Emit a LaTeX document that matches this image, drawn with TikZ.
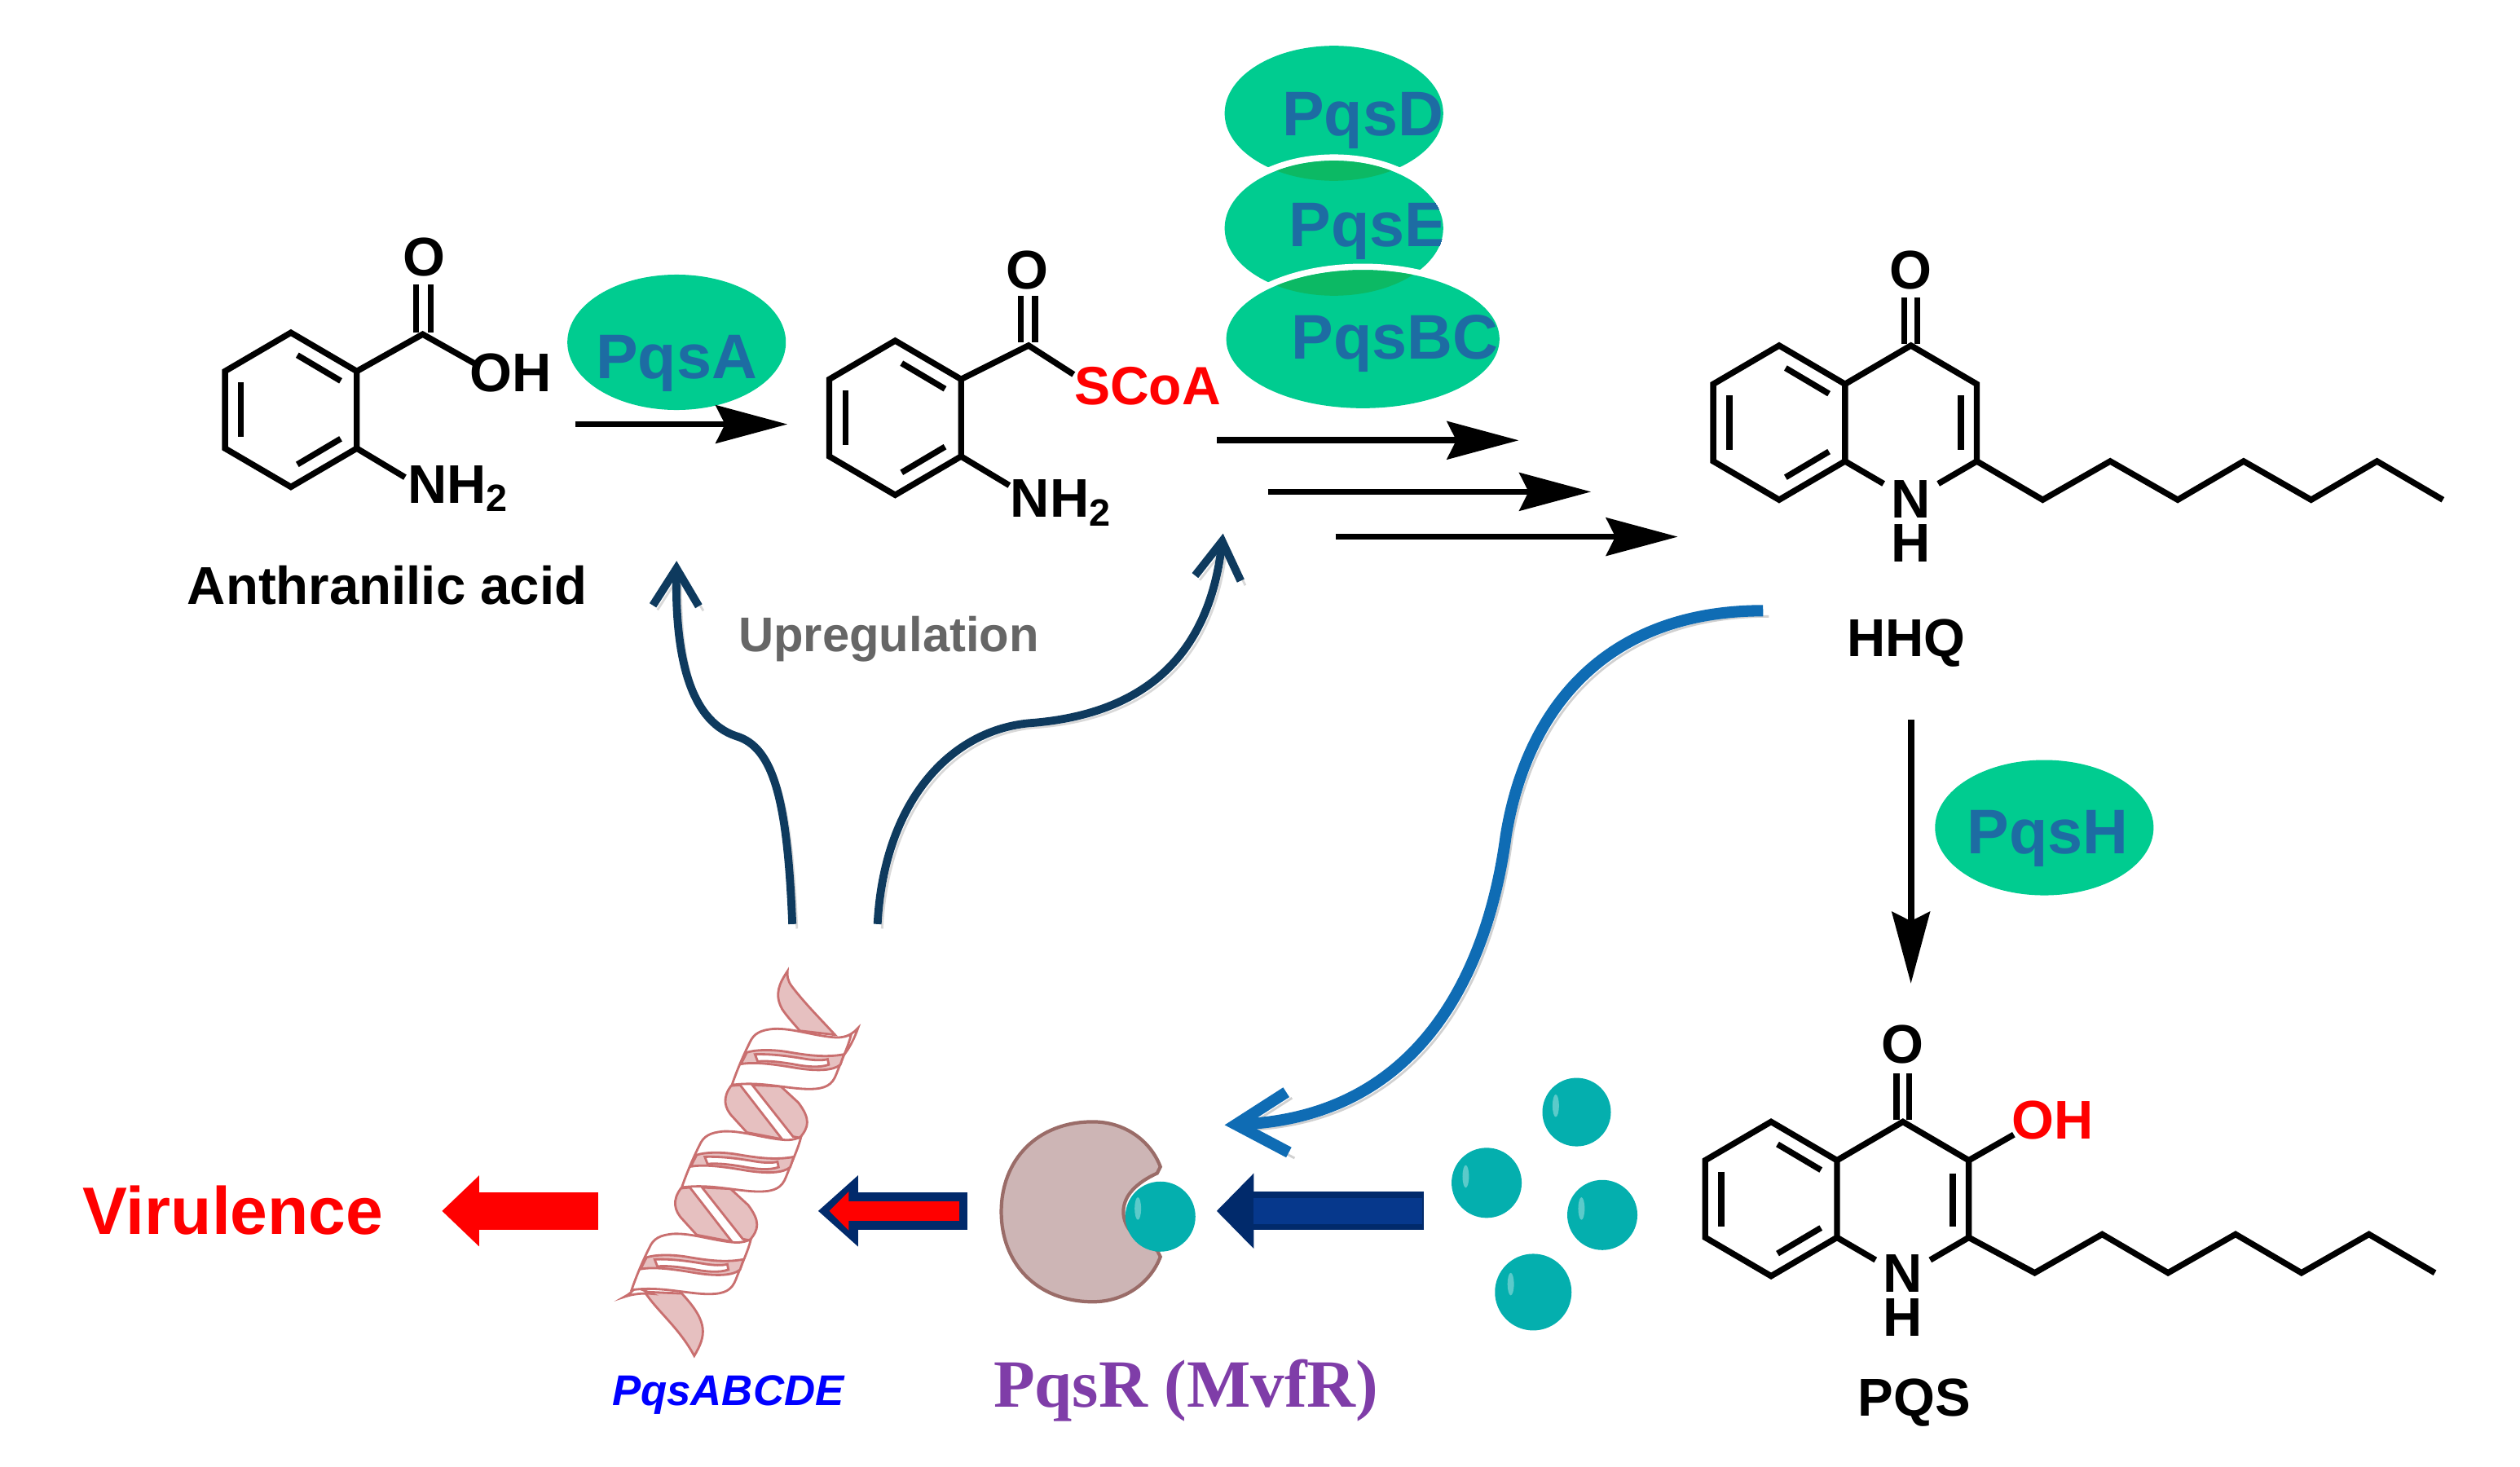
\documentclass[tikz,border=0pt]{standalone}
\usepackage{fontspec}
\setmainfont{Liberation Sans}
\newfontfamily\serifbold{Liberation Serif}
\usetikzlibrary{arrows.meta,shapes.geometric}
\definecolor{enzgreen}{HTML}{00CC90}
\definecolor{enzlens}{HTML}{0CB964}
\definecolor{enztext}{HTML}{1D6CA3}
\definecolor{ligand}{HTML}{04AFAE}
\definecolor{rope}{HTML}{0E3A5E}
\definecolor{hhqblue}{HTML}{0F6CB4}
\definecolor{navybar}{HTML}{06388C}
\definecolor{navyedge}{HTML}{012A6B}
\definecolor{dnaline}{HTML}{C96F6F}
\definecolor{dnafill}{HTML}{E6C0C0}
\definecolor{pocket}{HTML}{CDB5B5}
\definecolor{pocketline}{HTML}{9A6C68}
\definecolor{genepurple}{HTML}{7F3DA8}
\tikzset{
  bond/.style={line width=1.05pt, line join=miter},
  atom/.style={font=\fontsize{9.5}{9.5}\selectfont\bfseries, inner sep=0pt},
  nhatom/.style={font=\fontsize{9.5}{7.7}\selectfont\bfseries, inner sep=0pt, align=center},
  molname/.style={font=\fontsize{9.3}{9.3}\selectfont\bfseries, inner sep=0pt},
  enzyme/.style={ellipse, fill=enzgreen, inner sep=0pt, minimum width=1.34cm, minimum height=0.83cm},
  enzlabel/.style={font=\fontsize{11}{11}\selectfont\bfseries, text=enztext, inner sep=0pt},
  rxn/.style={line width=1.1pt, -{Stealth[length=12.5pt, width=6.6pt, inset=1.6pt]}},
  upreg/.style={line width=1.4pt, rope, -{Straight Barb[length=6.5pt, width=8pt]},
    preaction={draw=black, opacity=.15, transform canvas={xshift=.8pt, yshift=-.8pt}}},
  relay/.style={line width=2pt, hhqblue, -{Straight Barb[length=9pt, width=10.5pt]},
    preaction={draw=black, opacity=.18, transform canvas={xshift=1pt, yshift=-1pt}}},
  redbar/.style={line width=6.5pt, red, -{Triangle[length=6.5pt, width=12pt]}},
  dnaband/.style={draw=dnaline, fill=white, line width=.4pt},
  dnapink/.style={draw=dnaline, fill=dnafill, line width=.4pt},
  ball/.style={circle, fill=ligand, inner sep=0pt, minimum size=#1}
}
\newcommand{\benzo}[2]{
  \begin{scope}[shift={(#1,#2)}]
    \draw[bond] (0,-48) -- (41,-24) -- (41,24) -- (0,48) -- (-41,24) -- (-41,-24) -- cycle;
    \draw[bond] (-31,-17) -- (-31,17);
    \draw[bond] (4,-34) -- (31,-18);
    \draw[bond] (4,34) -- (31,18);
  \end{scope}
}
\newcommand{\glint}[2]{\fill[white, opacity=.35] (#1,#2) ellipse (2 and 7);}
\begin{document}
\begin{tikzpicture}[x=0.00986cm, y=-0.00986cm]
  \useasboundingbox (0,0) rectangle (1568,912.8);

  \benzo{181}{255}
  \draw[bond] (222,231) -- (263,208) -- (295,226);
  \draw[bond] (222,279) -- (252,297);
  \draw[bond] (259,207) -- (259,177);
  \draw[bond] (268,207) -- (268,177);
  \node[atom] (oA) at (264,160) {O};
  \node[atom] (ohA) at (318,232) {OH};
  \node[atom, anchor=west] (nhA) at (253,304) {NH\textsubscript{2}};
  \node[molname] (anth) at (241,364) {Anthranilic acid};

  \node[enzyme] (pqsA) at (421,213) {};
  \node[enzlabel] (pqsAtxt) at (421,226) {PqsA};
  \coordinate (aStart) at (358,264);
  \coordinate (aEnd) at (490,264);
  \draw[rxn] (aStart) -- (aEnd);

  \benzo{557}{260}
  \draw[bond] (598,236) -- (640,215) -- (668,233);
  \draw[bond] (598,284) -- (628,302);
  \draw[bond] (635,213) -- (635,184);
  \draw[bond] (644,213) -- (644,184);
  \node[atom] (oB) at (639,168) {O};
  \node[atom, text=red, font=\fontsize{9.4}{9.4}\selectfont\bfseries] (scoa) at (714,240) {SCoA};
  \node[atom, anchor=west] (nhB) at (628,313) {NH\textsubscript{2}};

  \fill[enzgreen] (830,70.5) ellipse (68 and 42);
  \begin{scope}
    \clip (830,70.5) ellipse (68 and 42);
    \node[enzlabel] (pqsDtxt) at (848,75) {PqsD};
  \end{scope}
  \draw[white, line width=2.2pt] (830,142) ellipse (68 and 42);
  \fill[enzgreen] (830,142) ellipse (68 and 42);
  \begin{scope}
    \clip (830,70.5) ellipse (68 and 42);
    \fill[enzlens] (830,142) ellipse (68 and 42);
  \end{scope}
  \begin{scope}
    \clip (830,142) ellipse (68 and 42);
    \node[enzlabel] (pqsEtxt) at (851,144) {PqsE};
  \end{scope}
  \draw[white, line width=2.2pt] (848,211) ellipse (85 and 43);
  \fill[enzgreen] (848,211) ellipse (85 and 43);
  \begin{scope}
    \clip (830,142) ellipse (68 and 42);
    \fill[enzlens] (848,211) ellipse (85 and 43);
  \end{scope}
  \node[enzlabel] (pqsBCtxt) at (868,214) {PqsBC};

  \coordinate (bStart) at (757,274);
  \coordinate (bEnd) at (945,274);
  \coordinate (cStart) at (789,306);
  \coordinate (cEnd) at (990,306);
  \coordinate (dStart) at (831,334);
  \coordinate (dEnd) at (1044,334);
  \draw[rxn] (bStart) -- (bEnd);
  \draw[rxn] (cStart) -- (cEnd);
  \draw[rxn] (dStart) -- (dEnd);

  \benzo{1107}{263}
  \draw[bond] (1148,239) -- (1189,215) -- (1230,239) -- (1230,287) -- (1206,301);
  \draw[bond] (1148,287) -- (1172,301);
  \draw[bond] (1220,246) -- (1220,280);
  \draw[bond] (1185,214) -- (1185,185);
  \draw[bond] (1193,214) -- (1193,185);
  \draw[bond] (1230,287) -- (1271,311) -- (1313,287) -- (1355,311) -- (1396,287) -- (1438,311) -- (1479,287) -- (1520,311);
  \node[atom] (oC) at (1189,168) {O};
  \node[nhatom] (nhC) at (1189,324.5) {N\\H};
  \node[molname] (hhq) at (1186,400) {HHQ};

  \coordinate (eStart) at (1189,448);
  \coordinate (eEnd) at (1189,612);
  \draw[rxn] (eStart) -- (eEnd);
  \node[enzyme] (pqsH) at (1272,515) {};
  \node[enzlabel] (pqsHtxt) at (1274,522) {PqsH};

  \benzo{1102}{746}
  \draw[bond] (1143,722) -- (1184,698) -- (1225,722) -- (1225,770) -- (1201,784);
  \draw[bond] (1143,770) -- (1167,784);
  \draw[bond] (1215,730) -- (1215,763);
  \draw[bond] (1180,697) -- (1180,668);
  \draw[bond] (1188,697) -- (1188,668);
  \draw[bond] (1225,722) -- (1253,706);
  \draw[bond] (1225,770) -- (1266,792) -- (1308,768) -- (1349,792) -- (1391,768) -- (1432,792) -- (1474,768) -- (1515,792);
  \node[atom] (oD) at (1184,650) {O};
  \node[atom, text=red] (ohD) at (1277,697) {OH};
  \node[nhatom] (nhD) at (1184,806) {N\\H};
  \node[molname] (pqs) at (1191,873) {PQS};

  \coordinate (upA) at (493,575);
  \coordinate (upB) at (546,575);
  \coordinate (upAend) at (421,349);
  \coordinate (upBend) at (761,332);
  \draw[upreg] (upA) .. controls (490,500) and (482,465) .. (458,458) .. controls (428,448) and (420,405) .. (upAend);
  \draw[upreg] (upB) .. controls (550,500) and (590,455) .. (640,450) .. controls (710,445) and (752,410) .. (upBend);
  \node[inner sep=0pt, text=black!60, font=\fontsize{8.5}{8.5}\selectfont\bfseries] (upreg) at (553,397.5) {Upregulation};

  \coordinate (hhqOut) at (1097,380);
  \coordinate (pqsrIn) at (762,700);
  \draw[relay] (hhqOut) .. controls (1000,380) and (950,440) .. (937,520) .. controls (925,610) and (880,695) .. (pqsrIn);

  \begin{scope}[shift={(385.4,603.4)}, x=0.001667cm, y=-0.001667cm]
    \draw[dnapink] (620,5) .. controls (590,50) and (570,90) .. (600,145) .. controls (620,175) and (640,195) .. (665,225) -- (795,240) .. controls (740,180) and (680,120) .. (635,60) .. controls (620,40) and (618,20) .. cycle;
    \draw[dnapink] (93,1188) .. controls (140,1260) and (220,1320) .. (276,1424) .. controls (320,1350) and (330,1300) .. (230,1194) -- cycle;
    \foreach \i in {0,1} {
      \begin{scope}[shift={(-185*\i,378*\i)}]
        \draw[dnapink] (412,428) .. controls (380,470) and (385,510) .. (420,545) -- (470,600) -- (600,625) -- (445,425) -- cycle;
        \draw[dnapink] (490,425) -- (640,615) -- (665,620) .. controls (700,580) and (705,550) .. (660,490) -- (595,430) -- cycle;
      \end{scope}
    }
    \draw[dnaband] (820,250) .. controls (845,245) and (865,232) .. (880,215) .. controls (868,250) and (850,285) .. (835,305) -- cycle;
    \draw[dnaband] (60,1170) .. controls (50,1185) and (35,1198) .. (17,1207) .. controls (50,1195) and (90,1192) .. (120,1195) -- cycle;
    \foreach \i in {0,1,2} {
      \begin{scope}[shift={(-185*\i,378*\i)}]
        \draw[dnaband] (415,425) .. controls (430,380) and (455,320) .. (480,270) .. controls (495,235) and (520,222) .. (570,218) .. controls (640,215) and (720,245) .. (800,250) .. controls (825,250) and (840,245) .. (855,238) .. controls (845,280) and (825,320) .. (800,385) .. controls (785,425) and (760,440) .. (700,440) .. controls (620,440) and (520,410) .. (415,425) -- cycle;
        \draw[dnapink] (470,305) .. controls (500,295) and (560,293) .. (620,303) .. controls (690,315) and (760,325) .. (828,312) -- (815,350) .. controls (790,372) and (730,375) .. (650,362) .. controls (580,350) and (500,338) .. (448,348) -- cycle;
        \draw[dnaband] (500,312) .. controls (560,310) and (620,318) .. (680,328) .. controls (720,335) and (750,335) .. (768,330) -- (772,350) .. controls (740,362) and (690,358) .. (640,348) .. controls (590,340) and (550,335) .. (510,338) -- cycle;
      \end{scope}
    }
  \end{scope}
  \node[inner sep=0pt, text=blue, font=\fontsize{7.5}{7.5}\selectfont\bfseries\itshape] (operon) at (453,868) {PqsABCDE};

  \node[inner sep=0pt, text=red, font=\fontsize{11.7}{11.7}\selectfont\bfseries] (vir) at (145,753) {Virulence};
  \coordinate (virTail) at (372,753.5);
  \coordinate (virTip) at (275,753.5);
  \draw[redbar] (virTail) -- (virTip);
  \coordinate (dnaTail) at (602,753.5);
  \coordinate (dnaTip) at (509,753.5);
  \coordinate (dnaTailIn) at (597,753.5);
  \coordinate (dnaTipIn) at (516,753.5);
  \draw[line width=6.5pt, navyedge, -{Triangle[length=7pt, width=12pt]}] (dnaTail) -- (dnaTip);
  \draw[line width=3.4pt, red, -{Triangle[length=3.4pt, width=6.6pt]}] (dnaTailIn) -- (dnaTipIn);

  \draw[fill=pocket, draw=pocketline, line width=.6pt] (680,698) .. controls (645,698) and (623,722) .. (623,754) .. controls (623,786) and (645,810) .. (680,810) .. controls (700,810) and (716,798) .. (722,782) -- (720,778) .. controls (707,772) and (699,764) .. (699,754) .. controls (699,744) and (707,736) .. (720,730) -- (722,726) .. controls (716,710) and (700,698) .. (680,698) -- cycle;
  \node[ball=0.43cm] (bound) at (722,757) {};
  \glint{708}{752}
  \node[ball=0.42cm] (freeA) at (981,692) {};
  \glint{968}{688}
  \node[ball=0.43cm] (freeB) at (925,736) {};
  \glint{912}{732}
  \node[ball=0.43cm] (freeC) at (997,756) {};
  \glint{984}{752}
  \node[ball=0.47cm] (freeD) at (954,804) {};
  \glint{940}{799}
  \coordinate (ligTail) at (886,753.5);
  \coordinate (ligTip) at (757,753.5);
  \draw[line width=6.7pt, navyedge, -{Triangle[length=6.5pt, width=12.8pt]}] (ligTail) -- (ligTip);
  \draw[line width=4.6pt, navybar] (885,753.5) -- (780,753.5);
  \node[inner sep=0pt, text=genepurple, font=\serifbold\fontsize{11.8}{11.8}\selectfont\bfseries] (pqsr) at (738,865) {PqsR (MvfR)};
\end{tikzpicture}
\end{document}
